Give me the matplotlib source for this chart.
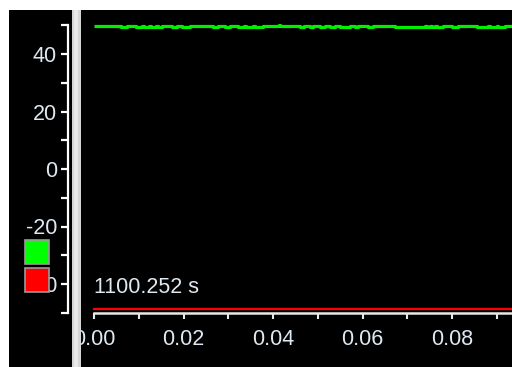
import matplotlib
matplotlib.use("Agg")
import matplotlib.pyplot as plt
from matplotlib.patches import Rectangle

# ---- data ----
H, L, S = 49.75, 49.4, 50.1
green_t = [0.0000, 0.0060, 0.0074, 0.0094, 0.0107, 0.0112, 0.0123, 0.0127, 0.0139, 0.0143,
           0.0152, 0.0174, 0.0185, 0.0197, 0.0215, 0.0266, 0.0277, 0.0293, 0.0304, 0.0322,
           0.0335, 0.0340, 0.0355, 0.0360, 0.0378, 0.0413, 0.0416, 0.0460, 0.0469, 0.0483,
           0.0489, 0.0505, 0.0516, 0.0527, 0.0539, 0.0550, 0.0572, 0.0583, 0.0590, 0.0612,
           0.0623, 0.0673, 0.0740, 0.0744, 0.0751, 0.0755, 0.0762, 0.0767, 0.0780, 0.0800,
           0.0813, 0.0856, 0.0880, 0.0885, 0.0901, 0.0903, 0.0918, 0.0934]
green_v = [H, L, H, L, H, L, H, L, H, L,
           H, L, H, L, H, L, H, L, H, L,
           H, L, H, L, H, S, H, L, H, L,
           H, L, H, L, H, L, H, L, H, L,
           H, L, H, L, H, L, H, L, H, L,
           H, L, H, L, H, L, H, H]
red_t = [0.0, 0.0934]
red_v = [-48.7, -48.7]
x_ticks = [0.00, 0.01, 0.02, 0.03, 0.04, 0.05, 0.06, 0.07, 0.08, 0.09]
x_labels = ["0.00", "", "0.02", "", "0.04", "", "0.06", "", "0.08", ""]
y_ticks = [-50, -40, -30, -20, -10, 0, 10, 20, 30, 40, 50]
y_labels = ["", "-40", "", "-20", "", "0", "", "20", "", "40", ""]
time_label = "1100.252 s"

W, Hh = 512, 367
fig = plt.figure(figsize=(W / 100, Hh / 100), dpi=100, facecolor="white")
plt.rcParams["font.family"] = ["Liberation Sans", "DejaVu Sans"]
txt = "#dfe9f2"

def px(x0, y0, x1, y1):
    return [x0 / W, 1 - y1 / Hh, (x1 - x0) / W, (y1 - y0) / Hh]

# black background
fig.patches.append(Rectangle((9 / W, 0), 1 - 9 / W, 1 - 10 / Hh, transform=fig.transFigure,
                             facecolor="black", edgecolor="none", zorder=-10))

ax = fig.add_axes(px(94, 25.25, 512, 312.75))
ax.set_zorder(1)
ax.set_facecolor("none")
ax.patch.set_alpha(0)
ax.set_xlim(0, 0.0934)
ax.set_ylim(-50, 50)

ax.plot(green_t, green_v, drawstyle="steps-post", color="#00f000", lw=2.3,
        solid_capstyle="butt", clip_on=False, zorder=3)
ax.plot(red_t, red_v, color="#ff0000", lw=1.6, clip_on=False, zorder=3)

for s in ["top", "right"]:
    ax.spines[s].set_visible(False)
ax.spines["left"].set_position(("outward", 18.7))
ax.spines["left"].set_color("white")
ax.spines["left"].set_linewidth(1.6)
ax.spines["bottom"].set_color("#e8e8e8")
ax.spines["bottom"].set_linewidth(1.8)

ax.set_yticks(y_ticks)
ax.set_yticklabels(y_labels)
ax.set_xticks(x_ticks)
ax.set_xticklabels(x_labels)
ax.tick_params(axis="y", colors="white", labelcolor=txt, length=5, width=1.6,
               labelsize=15.5, pad=3)
ax.tick_params(axis="x", colors="#e8e8e8", labelcolor=txt, length=4.5, width=1.5,
               labelsize=15.5, pad=7.5)

ax.text(0.0, -41.3, time_label, color=txt, fontsize=15.5, ha="left", va="center")

# separator bar
fig.patches.append(Rectangle((72 / W, 0), 9 / W, 1 - 10 / Hh, transform=fig.transFigure,
                             facecolor="#d6d6d6", edgecolor="none", zorder=5))
fig.patches.append(Rectangle((74 / W, 0), 4 / W, 1 - 10 / Hh, transform=fig.transFigure,
                             facecolor="#e9e9e9", edgecolor="none", zorder=5))

# legend squares
fig.patches.append(Rectangle((25 / W, 1 - 264 / Hh), 24 / W, 24 / Hh, transform=fig.transFigure,
                             facecolor="#00ff00", edgecolor="#9a9a9a", lw=1.2, zorder=6))
fig.patches.append(Rectangle((25 / W, 1 - 292 / Hh), 24 / W, 24 / Hh, transform=fig.transFigure,
                             facecolor="#ff0000", edgecolor="#9a9a9a", lw=1.2, zorder=6))

fig.savefig("out.png", dpi=100, facecolor="white")
